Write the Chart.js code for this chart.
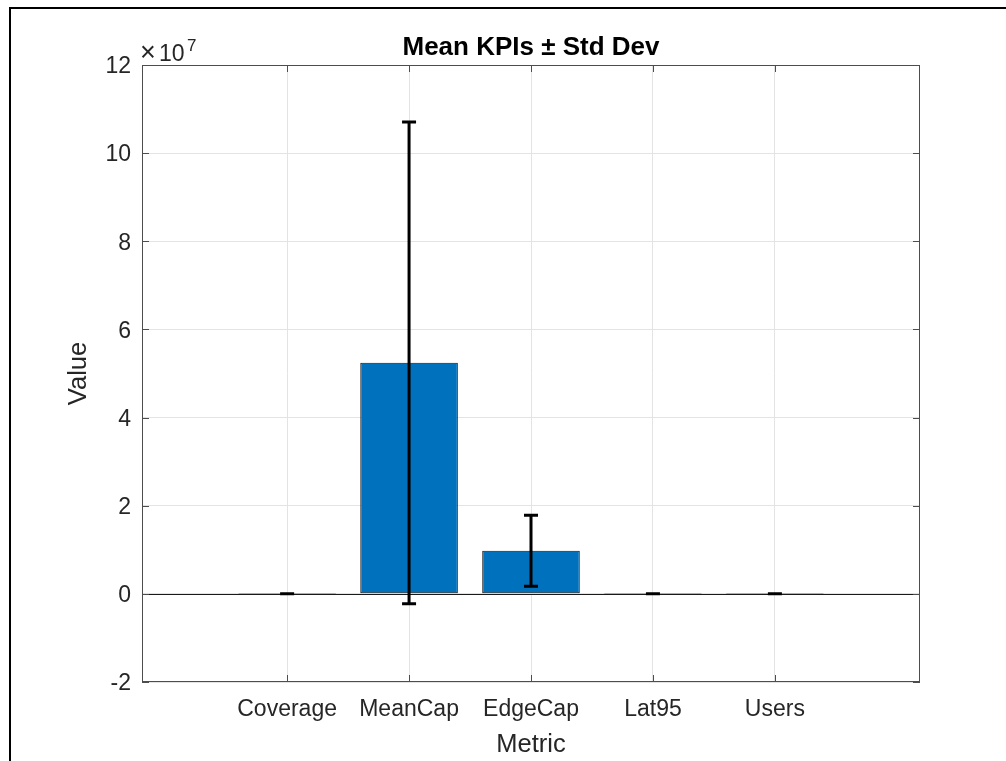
<!DOCTYPE html>
<html lang="en">
  <head>
    <script src="https://cdn.jsdelivr.net/npm/chart.js"></script>
    <style>
      body { margin: 0; background: #fff; }
    </style>
  </head>
  <body>
    <canvas id="chart" width="1006" height="761"></canvas>
    <script type="text/javascript">
      const metrics = ['Coverage', 'MeanCap', 'EdgeCap', 'Lat95', 'Users'];
      const means = [0.85, 5.243e7, 0.976e7, 18, 60];
      const stds = [0.05, 5.465e7, 0.805e7, 4, 10];
      const yTicks = [-2e7, 0, 2e7, 4e7, 6e7, 8e7, 10e7, 12e7];

      const FONT = "'Liberation Sans', Arial, Helvetica, sans-serif";
      const TXT = '#262626';
      const AXIS = '#4d4d4d';

      // baseline, error bars, box, inward ticks, frame, title, exponent
      const decor = {
        id: 'decor',
        beforeDatasetsDraw(chart) {
          const { ctx, chartArea: a, scales } = chart;
          const y0 = scales.y.getPixelForValue(0);
          ctx.save();
          ctx.strokeStyle = '#1a1a1a';
          ctx.lineWidth = 1;
          ctx.beginPath();
          ctx.moveTo(a.left, Math.round(y0) + 0.5);
          ctx.lineTo(a.right, Math.round(y0) + 0.5);
          ctx.stroke();
          ctx.restore();
        },
        afterDatasetsDraw(chart) {
          const { ctx, chartArea: a, scales } = chart;
          const x = scales.x, y = scales.y;
          ctx.save();
          ctx.strokeStyle = '#000';
          ctx.lineWidth = 3;
          means.forEach((m, i) => {
            const px = x.getPixelForValue(i + 1);
            const top = y.getPixelForValue(m + stds[i]);
            const bot = y.getPixelForValue(m - stds[i]);
            ctx.beginPath();
            ctx.moveTo(px, top);
            ctx.lineTo(px, bot);
            ctx.moveTo(px - 7, top);
            ctx.lineTo(px + 7, top);
            ctx.moveTo(px - 7, bot);
            ctx.lineTo(px + 7, bot);
            ctx.stroke();
          });
          ctx.strokeStyle = AXIS;
          ctx.lineWidth = 1;
          ctx.strokeRect(a.left + 0.5, a.top + 0.5, a.right - a.left - 1, a.bottom - a.top - 1);
          ctx.beginPath();
          metrics.forEach((c, i) => {
            const px = Math.round(x.getPixelForValue(i + 1)) + 0.5;
            ctx.moveTo(px, a.bottom);
            ctx.lineTo(px, a.bottom - 7);
            ctx.moveTo(px, a.top);
            ctx.lineTo(px, a.top + 7);
          });
          yTicks.forEach((v) => {
            const py = Math.round(y.getPixelForValue(v)) + 0.5;
            ctx.moveTo(a.left, py);
            ctx.lineTo(a.left + 7, py);
            ctx.moveTo(a.right, py);
            ctx.lineTo(a.right - 7, py);
          });
          ctx.stroke();
          ctx.restore();
        },
        afterDraw(chart) {
          const { ctx, chartArea: a } = chart;
          ctx.save();
          ctx.strokeStyle = '#000';
          ctx.lineWidth = 2;
          ctx.beginPath();
          ctx.moveTo(10, 761);
          ctx.lineTo(10, 8);
          ctx.lineTo(1006, 8);
          ctx.stroke();
          ctx.fillStyle = '#000';
          ctx.font = 'bold 26px ' + FONT;
          ctx.textAlign = 'center';
          ctx.textBaseline = 'alphabetic';
          ctx.fillText('Mean KPIs \u00b1 Std Dev', (a.left + a.right) / 2, 55);
          ctx.fillStyle = TXT;
          ctx.textAlign = 'left';
          ctx.font = '27px ' + FONT;
          ctx.fillText('\u00d7', 140, 61);
          ctx.font = '23px ' + FONT;
          ctx.fillText('10', 159, 61);
          ctx.font = '17px ' + FONT;
          ctx.fillText('7', 187, 51);
          ctx.restore();
        },
      };

      new Chart(document.getElementById('chart'), {
        type: 'bar',
        data: {
          datasets: [
            {
              label: 'Mean',
              data: means.map((m, i) => ({ x: i + 1, y: m })),
              backgroundColor: '#0072BD',
              borderColor: '#111',
              borderWidth: 1,
              borderSkipped: false,
              barPercentage: 0.8,
              categoryPercentage: 1,
            },
          ],
        },
        options: {
          responsive: false,
          animation: false,
          events: [],
          layout: { padding: { top: 65, right: 86, left: 0, bottom: 0 } },
          plugins: { legend: { display: false }, tooltip: { enabled: false } },
          scales: {
            x: {
              type: 'linear',
              offset: false,
              min: -0.19,
              max: 6.19,
              afterBuildTicks: (s) => { s.ticks = metrics.map((c, i) => ({ value: i + 1 })); },
              afterFit: (s) => { s.height = 79; },
              grid: { color: '#e3e3e3', drawTicks: false, offset: false },
              border: { display: false },
              ticks: {
                padding: 14,
                color: TXT,
                font: { family: FONT, size: 23 },
                maxRotation: 0,
                autoSkip: false,
                callback: (v) => metrics[v - 1],
              },
              title: {
                display: true,
                text: 'Metric',
                color: TXT,
                font: { family: FONT, size: 25.5 },
                padding: { top: 0, bottom: 1 },
              },
            },
            y: {
              min: -2e7,
              max: 12e7,
              afterBuildTicks: (s) => { s.ticks = yTicks.map((v) => ({ value: v })); },
              afterFit: (s) => { s.width = 142; },
              grid: { color: '#e3e3e3', drawTicks: false },
              border: { display: false },
              ticks: {
                padding: 11,
                labelOffset: 2,
                color: TXT,
                font: { family: FONT, size: 23 },
                callback: (v) => String(v / 1e7),
              },
              title: {
                display: true,
                text: 'Value',
                color: TXT,
                font: { family: FONT, size: 25.5 },
                padding: { top: 64, bottom: 0 },
              },
            },
          },
        },
        plugins: [decor],
      });
    </script>
  </body>
</html>
